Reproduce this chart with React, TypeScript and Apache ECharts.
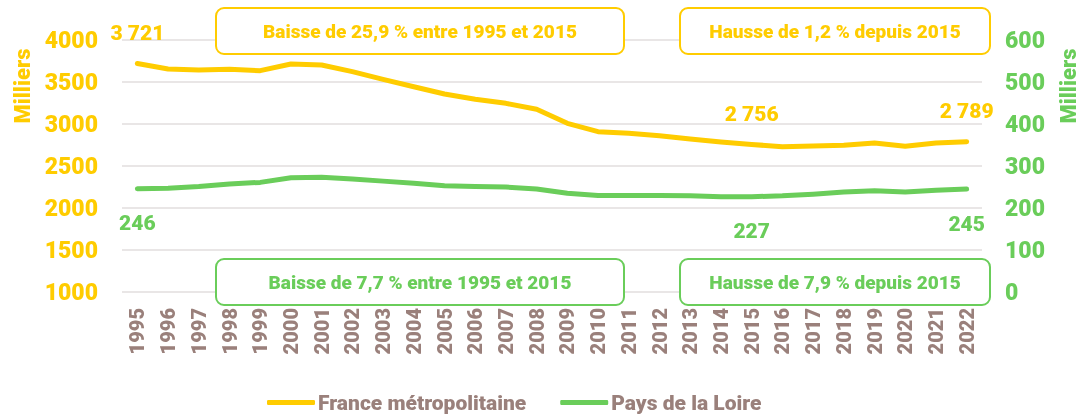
import React, { useEffect, useRef } from "react";
import * as echarts from "echarts";

const years = ["1995","1996","1997","1998","1999","2000","2001","2002","2003","2004","2005","2006","2007","2008","2009","2010","2011","2012","2013","2014","2015","2016","2017","2018","2019","2020","2021","2022"];
const france = [3721,3655,3643,3651,3635,3714,3702,3623,3532,3444,3357,3294,3246,3175,3008,2909,2889,2861,2821,2786,2756,2730,2738,2746,2774,2734,2774,2789];
const loire = [246,247,251,257,261,272,273,269,264,259,253,251,250,245,235,230,230,230,229,227,227,229,233,238,241,238,242,245];
const labelledIdx = [0, 20, 27];
const leftTicks = { min: 1000, max: 4000, interval: 500 };
const rightTicks = { min: 0, max: 600, interval: 100 };
const notes = [
  "Baisse de 25,9 % entre 1995 et 2015",
  "Hausse de 1,2 % depuis 2015",
  "Baisse de 7,7 % entre 1995 et 2015",
  "Hausse de 7,9 % depuis 2015",
];

const YELLOW = "#FFCC00";
const GREEN = "#6ACD5A";
const BROWN = "#9A807B";
const FONT = "Roboto";
const W = 900;

const fmt = (v: number) => String(v).replace(/\B(?=(\d{3})+(?!\d))/g, " ");

export default function App() {
  const ref = useRef<HTMLDivElement>(null);
  useEffect(() => {
    if (!ref.current) return;
    const chart = echarts.init(ref.current, null, { renderer: "svg" });
    const mk = (vals: number[], pos: "top" | "bottom", dist: number, color: string) =>
      vals.map((v, i) =>
        labelledIdx.includes(i)
          ? { value: v, label: { show: true, position: pos, distance: dist, color, fontSize: 21, fontWeight: W, fontFamily: FONT, formatter: (p: any) => fmt(p.value) } }
          : v
      );
    const box = (x: number, y: number, w: number, h: number, color: string, text: string) => ({
      type: "group",
      children: [
        { type: "rect", shape: { x, y, width: w, height: h, r: 8 }, style: { fill: "#fff", stroke: color, lineWidth: 2 }, z: 10 },
        { type: "text", x: x + w / 2, y: y + h / 2, style: { text, fill: color, font: `${W} 19px ${FONT}`, textAlign: "center", textVerticalAlign: "middle" }, z: 11 },
      ],
    });
    chart.setOption({
      animation: false,
      textStyle: { fontFamily: FONT },
      grid: { left: 122, right: 99, top: 40, bottom: 124 },
      legend: {
        bottom: -2,
        left: 262,
        icon: "roundRect",
        itemWidth: 48,
        itemHeight: 5,
        itemGap: 34,
        textStyle: { color: BROWN, fontSize: 21, fontWeight: W, fontFamily: FONT, padding: [0, 0, 0, -2] },
        data: ["France métropolitaine", "Pays de la Loire"],
      },
      xAxis: {
        type: "category",
        data: years,
        boundaryGap: true,
        axisLine: { show: false },
        axisTick: { show: false },
        axisLabel: { rotate: 90, interval: 0, color: BROWN, fontSize: 20, fontWeight: W, fontFamily: FONT, margin: 16 },
      },
      yAxis: [
        {
          type: "value",
          ...leftTicks,
          axisLine: { show: false },
          axisTick: { show: false },
          axisLabel: { color: YELLOW, fontSize: 23, fontWeight: W, fontFamily: FONT, margin: 24, formatter: (v: number) => String(v) },
          splitLine: { lineStyle: { color: "#E2DEDE", width: 1.5 } },
        },
        {
          type: "value",
          ...rightTicks,
          position: "right",
          axisLine: { show: false },
          axisTick: { show: false },
          axisLabel: { color: GREEN, fontSize: 23, fontWeight: W, fontFamily: FONT, margin: 23, formatter: (v: number) => String(v) },
          splitLine: { show: false },
        },
      ],
      series: [
        {
          name: "France métropolitaine",
          type: "line",
          yAxisIndex: 0,
          data: mk(france, "top", 20, YELLOW),
          symbol: "circle",
          symbolSize: 0,
          showSymbol: true,
          lineStyle: { color: YELLOW, width: 5, cap: "round", join: "round" },
          itemStyle: { color: YELLOW },
        },
        {
          name: "Pays de la Loire",
          type: "line",
          yAxisIndex: 1,
          data: mk(loire, "bottom", 24, GREEN),
          symbol: "circle",
          symbolSize: 0,
          showSymbol: true,
          lineStyle: { color: GREEN, width: 5, cap: "round", join: "round" },
          itemStyle: { color: GREEN },
        },
      ],
      graphic: [
        box(216, 8, 408, 46, YELLOW, notes[0]),
        box(680, 8, 310, 46, YELLOW, notes[1]),
        box(216, 259, 408, 46, GREEN, notes[2]),
        box(680, 259, 310, 46, GREEN, notes[3]),
        { type: "text", x: 22, y: 86, rotation: Math.PI / 2, style: { text: "Milliers", fill: YELLOW, font: `${W} 22px ${FONT}`, textAlign: "center", textVerticalAlign: "middle" } },
        { type: "text", x: 1068, y: 86, rotation: Math.PI / 2, style: { text: "Milliers", fill: GREEN, font: `${W} 22px ${FONT}`, textAlign: "center", textVerticalAlign: "middle" } },
      ],
    });
    return () => chart.dispose();
  }, []);
  return <div ref={ref} style={{ position: "fixed", left: 0, top: 0, width: 1081, height: 416 }} />;
}
